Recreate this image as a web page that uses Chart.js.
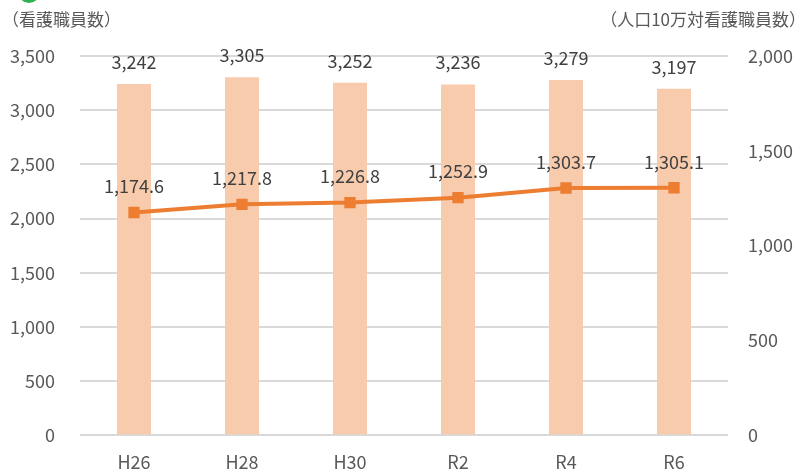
<!DOCTYPE html>
<html>
<head>
<meta charset="utf-8">
<script src="https://cdn.jsdelivr.net/npm/chart.js@4"></script>
<style>
  html, body { margin: 0; padding: 0; background: #fff; }
  #wrap { width: 806px; height: 471px; position: relative; }
</style>
</head>
<body>
<div id="wrap"><canvas id="nurses_chart"></canvas></div>
<script>
const years = ['H26', 'H28', 'H30', 'R2', 'R4', 'R6'];
const nurseCounts = [3242, 3305, 3252, 3236, 3279, 3197];
const per100k = [1174.6, 1217.8, 1226.8, 1252.9, 1303.7, 1305.1];

const leftTitle = '（看護職員数）';
const rightTitle = '（人口10万対看護職員数）';

const FONT = '"Noto Sans CJK JP", "Noto Sans", sans-serif';

// labels above bars and points
const valueLabels = {
    id: 'valueLabels',
    afterDatasetsDraw(chart) {
        const ctx = chart.ctx;
        ctx.save();
        ctx.font = '18px ' + FONT;
        ctx.fillStyle = '#404040';
        ctx.textAlign = 'center';
        ctx.textBaseline = 'middle';
        chart.data.datasets.forEach((ds, i) => {
            const meta = chart.getDatasetMeta(i);
            meta.data.forEach((el, j) => {
                const v = ds.data[j];
                let txt, off;
                if (ds.type === 'line') {
                    txt = v.toLocaleString('en-US', {minimumFractionDigits: 1, maximumFractionDigits: 1});
                    off = 26;
                } else {
                    txt = v.toLocaleString('en-US');
                    off = 22;
                }
                ctx.fillText(txt, el.x, el.y - off);
            });
        });
        ctx.restore();
    }
};

// axis captions and the clipped green mark in the corner
const captions = {
    id: 'captions',
    afterDraw(chart) {
        const ctx = chart.ctx;
        ctx.save();
        ctx.fillStyle = '#2fb14f';
        ctx.beginPath();
        ctx.ellipse(29, -8, 11, 11, 0, 0, Math.PI * 2);
        ctx.fill();
        ctx.font = '17px ' + FONT;
        ctx.fillStyle = '#595959';
        ctx.textBaseline = 'middle';
        ctx.textAlign = 'left';
        ctx.fillText(leftTitle, 2, 20);
        ctx.textAlign = 'right';
        ctx.fillText(rightTitle, 806, 20);
        ctx.restore();
    }
};

const ctx = document.getElementById('nurses_chart').getContext('2d');

new Chart(ctx, {
    data: {
        labels: years,
        datasets: [{
            type: 'line',
            data: per100k,
            yAxisID: 'y2',
            borderColor: '#ED7D31',
            backgroundColor: '#ED7D31',
            borderWidth: 4,
            pointStyle: 'rect',
            pointRadius: 8,
            pointBorderWidth: 0,
            order: 0
        }, {
            type: 'bar',
            data: nurseCounts,
            yAxisID: 'y',
            backgroundColor: '#F8CBAD',
            barPercentage: 0.315,
            categoryPercentage: 1,
            order: 1
        }]
    },
    options: {
        responsive: true,
        maintainAspectRatio: false,
        animation: false,
        layout: { padding: { top: 56, bottom: 0, left: 0, right: 0 } },
        plugins: {
            legend: { display: false },
            tooltip: { enabled: false }
        },
        scales: {
            x: {
                grid: { display: false },
                border: { display: false },
                ticks: {
                    color: '#595959',
                    font: { family: FONT, size: 18 },
                    padding: 8
                },
                afterFit: (s) => { s.height = 35; }
            },
            y: {
                position: 'left',
                min: 0,
                max: 3500,
                grid: { color: '#d9d9d9', lineWidth: 2, drawTicks: false },
                border: { display: false },
                ticks: {
                    stepSize: 500,
                    color: '#595959',
                    font: { family: FONT, size: 18 },
                    padding: 25,
                    callback: (v) => v.toLocaleString('en-US')
                },
                afterFit: (s) => { s.width = 80; }
            },
            y2: {
                position: 'right',
                min: 0,
                max: 2000,
                grid: { display: false, drawTicks: false },
                border: { display: false },
                ticks: {
                    stepSize: 500,
                    color: '#595959',
                    font: { family: FONT, size: 18 },
                    padding: 20,
                    callback: (v) => v.toLocaleString('en-US')
                },
                afterFit: (s) => { s.width = 78; }
            }
        }
    },
    plugins: [valueLabels, captions]
});
</script>
</body>
</html>
